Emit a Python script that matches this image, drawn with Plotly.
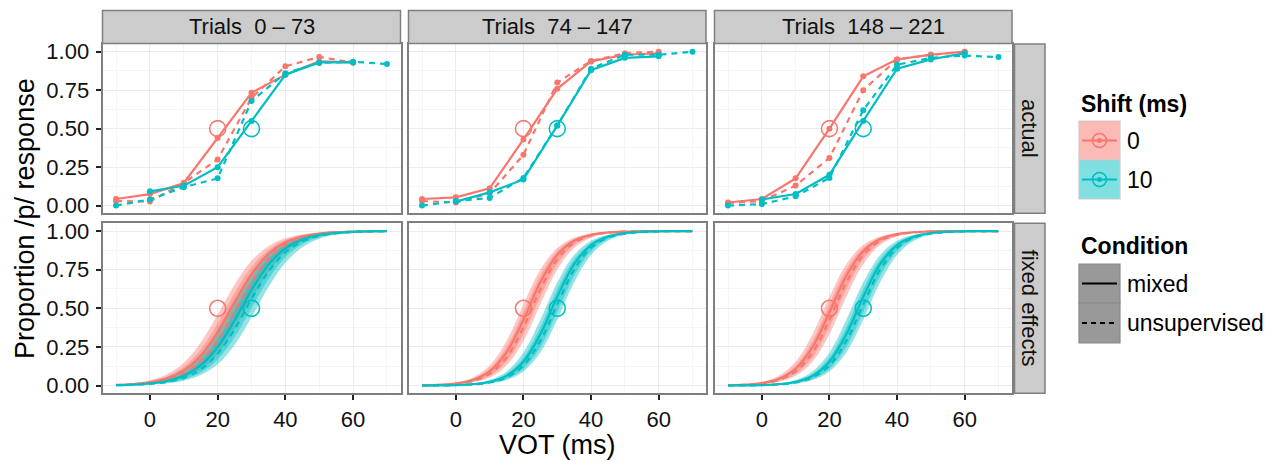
import plotly.graph_objects as go

# The page is shown with the browser's default 8px body margin, so the figure
# is sized to fill the rest of the 1272x461 window and positions are offset.
PAGE_OFF = 8
W, H = 1272 - PAGE_OFF, 461 - PAGE_OFF
FONT = "Liberation Sans, Arial, sans-serif"
RED = "#F8766D"
TEAL = "#00BFC4"
RED_FILL = "rgba(248,118,109,0.42)"
TEAL_FILL = "rgba(0,191,196,0.42)"
RED_KEY = "rgba(248,118,109,0.5)"
TEAL_KEY = "rgba(0,191,196,0.5)"

# ---------------- data ----------------
FACETS = ["Trials  0 \u2013 73", "Trials  74 \u2013 147", "Trials  148 \u2013 221"]
ROW_LABELS = ["actual", "fixed effects"]
SHIFTS = ["0", "10"]
CONDITIONS = ["mixed", "unsupervised"]

# category boundaries (open circles)
BOUNDARY_VOT = [20, 30]
BOUNDARY_P = [0.5, 0.5]

# --- actual proportions (top row) ---
VOT_ACTUAL = [-10, 0, 10, 20, 30, 40, 50, 60, 70]

P1_S0_MIX = [0.043, 0.075, 0.147, 0.44, 0.733, 0.851, 0.937, 0.93, None]
P1_S0_UNS = [0.030, 0.026, 0.147, 0.30, 0.70, 0.905, 0.966, 0.93, None]
P1_S10_MIX = [None, 0.093, 0.129, 0.25, 0.55, 0.85, 0.93, 0.93, None]
P1_S10_UNS = [0.0, 0.04, 0.12, 0.177, 0.68, 0.86, 0.927, 0.935, 0.92]

P2_S0_MIX = [0.043, 0.054, 0.112, 0.43, 0.759, 0.937, 0.98, 0.99, None]
P2_S0_UNS = [0.030, 0.020, 0.08, 0.33, 0.80, 0.94, 0.99, 1.0, None]
P2_S10_MIX = [None, 0.026, 0.086, 0.17, 0.52, 0.88, 0.96, 0.97, None]
P2_S10_UNS = [0.0, 0.03, 0.05, 0.18, 0.52, 0.89, 0.98, 0.98, 1.0]

P3_S0_MIX = [0.02, 0.043, 0.177, 0.50, 0.84, 0.95, 0.98, 1.0, None]
P3_S0_UNS = [0.017, 0.03, 0.13, 0.31, 0.75, 0.95, 0.98, 1.0, None]
P3_S10_MIX = [None, 0.04, 0.075, 0.20, 0.55, 0.89, 0.95, 0.99, None]
P3_S10_UNS = [0.0, 0.01, 0.06, 0.18, 0.62, 0.915, 0.96, 0.975, 0.965]

# --- fixed-effects predictions (bottom row), read at 5 ms steps ---
VOT_FIT = [-10, -5, 0, 5, 10, 15, 20, 25, 30, 35, 40, 45, 50, 55, 60, 65, 70]

# panel 1
P1_S0_MIX_FIT = [0.0045, 0.0100, 0.0217, 0.0466, 0.098, 0.193, 0.347, 0.540, 0.721, 0.852, 0.927, 0.965, 0.984, 0.993, 0.997, 0.9985, 0.9993]
P1_S0_MIX_LO = [0.0028, 0.0062, 0.0135, 0.0296, 0.063, 0.130, 0.248, 0.421, 0.617, 0.781, 0.887, 0.946, 0.975, 0.988, 0.995, 0.9976, 0.9989]
P1_S0_MIX_HI = [0.0072, 0.0158, 0.0345, 0.073, 0.148, 0.279, 0.460, 0.653, 0.807, 0.902, 0.953, 0.978, 0.990, 0.9955, 0.998, 0.9991, 0.9996]
P1_S0_UNS_FIT = [0.0036, 0.0078, 0.0172, 0.0373, 0.0787, 0.158, 0.295, 0.480, 0.670, 0.819, 0.909, 0.957, 0.980, 0.991, 0.996, 0.998, 0.999]
P1_S0_UNS_LO = [0.0022, 0.0049, 0.0108, 0.0234, 0.050, 0.105, 0.206, 0.364, 0.560, 0.737, 0.862, 0.932, 0.968, 0.985, 0.993, 0.997, 0.9986]
P1_S0_UNS_HI = [0.0057, 0.0125, 0.0274, 0.0584, 0.121, 0.233, 0.401, 0.599, 0.767, 0.879, 0.942, 0.973, 0.9875, 0.994, 0.9974, 0.9988, 0.9995]
P1_S10_MIX_FIT = [0.0028, 0.0062, 0.0135, 0.0296, 0.063, 0.130, 0.248, 0.421, 0.617, 0.781, 0.887, 0.946, 0.975, 0.988, 0.995, 0.9976, 0.9989]
P1_S10_MIX_LO = [0.0017, 0.0038, 0.0085, 0.0185, 0.040, 0.0847, 0.169, 0.312, 0.500, 0.688, 0.831, 0.915, 0.960, 0.981, 0.9915, 0.996, 0.9983]
P1_S10_MIX_HI = [0.0045, 0.0100, 0.0217, 0.0466, 0.098, 0.193, 0.347, 0.540, 0.721, 0.852, 0.927, 0.965, 0.984, 0.993, 0.997, 0.9985, 0.9993]
P1_S10_UNS_FIT = [0.0022, 0.0049, 0.0108, 0.0234, 0.050, 0.105, 0.206, 0.364, 0.560, 0.737, 0.862, 0.932, 0.968, 0.985, 0.993, 0.997, 0.9986]
P1_S10_UNS_LO = [0.0014, 0.0030, 0.0067, 0.0146, 0.032, 0.068, 0.138, 0.263, 0.440, 0.636, 0.794, 0.895, 0.950, 0.977, 0.989, 0.995, 0.9978]
P1_S10_UNS_HI = [0.0036, 0.0078, 0.0172, 0.0373, 0.0787, 0.158, 0.295, 0.480, 0.670, 0.819, 0.909, 0.957, 0.980, 0.991, 0.996, 0.998, 0.999]

# panel 2
P2_S0_MIX_FIT = [0.0018, 0.0050, 0.0134, 0.0356, 0.0911, 0.2142, 0.4256, 0.6682, 0.8455, 0.9370, 0.9759, 0.9910, 0.9967, 0.9988, 0.9996, 0.9998, 0.9999]
P2_S0_MIX_LO = [0.0012, 0.0033, 0.0090, 0.0241, 0.0630, 0.1545, 0.3318, 0.5744, 0.7858, 0.9089, 0.9644, 0.9866, 0.9950, 0.9982, 0.9993, 0.9998, 0.9999]
P2_S0_MIX_HI = [0.0027, 0.0074, 0.0198, 0.0522, 0.1301, 0.2891, 0.5250, 0.7503, 0.8909, 0.9569, 0.9837, 0.9939, 0.9978, 0.9992, 0.9997, 0.9999, 1.0]
P2_S0_UNS_FIT = [0.0015, 0.0041, 0.0110, 0.0293, 0.0759, 0.1824, 0.3775, 0.6225, 0.8176, 0.9241, 0.9707, 0.9890, 0.9959, 0.9985, 0.9994, 0.9998, 0.9999]
P2_S0_UNS_LO = [0.0010, 0.0027, 0.0074, 0.0198, 0.0522, 0.1301, 0.2891, 0.5250, 0.7503, 0.8909, 0.9569, 0.9837, 0.9939, 0.9978, 0.9992, 0.9997, 0.9999]
P2_S0_UNS_HI = [0.0022, 0.0061, 0.0163, 0.0431, 0.1091, 0.2497, 0.4750, 0.7109, 0.8699, 0.9478, 0.9802, 0.9926, 0.9973, 0.9990, 0.9996, 0.9999, 1.0]
P2_S10_MIX_FIT = [0.0005, 0.0012, 0.0033, 0.0090, 0.0241, 0.0630, 0.1545, 0.3318, 0.5744, 0.7858, 0.9089, 0.9644, 0.9866, 0.9950, 0.9982, 0.9993, 0.9998]
P2_S10_MIX_LO = [0.0003, 0.0008, 0.0022, 0.0061, 0.0163, 0.0431, 0.1091, 0.2497, 0.4750, 0.7109, 0.8699, 0.9478, 0.9802, 0.9926, 0.9973, 0.9990, 0.9996]
P2_S10_MIX_HI = [0.0007, 0.0018, 0.0050, 0.0134, 0.0356, 0.0911, 0.2142, 0.4256, 0.6682, 0.8455, 0.9370, 0.9759, 0.9910, 0.9967, 0.9988, 0.9996, 0.9998]
P2_S10_UNS_FIT = [0.0004, 0.0010, 0.0027, 0.0074, 0.0198, 0.0522, 0.1301, 0.2891, 0.5250, 0.7503, 0.8909, 0.9569, 0.9837, 0.9939, 0.9978, 0.9992, 0.9997]
P2_S10_UNS_LO = [0.0002, 0.0007, 0.0018, 0.0050, 0.0134, 0.0356, 0.0911, 0.2142, 0.4256, 0.6682, 0.8455, 0.9370, 0.9759, 0.9910, 0.9967, 0.9988, 0.9996]
P2_S10_UNS_HI = [0.0006, 0.0015, 0.0041, 0.0110, 0.0293, 0.0759, 0.1824, 0.3775, 0.6225, 0.8176, 0.9241, 0.9707, 0.9890, 0.9959, 0.9985, 0.9994, 0.9998]

# panel 3
P3_S0_MIX_FIT = [0.0022, 0.0061, 0.0163, 0.0431, 0.1091, 0.2497, 0.4750, 0.7109, 0.8699, 0.9478, 0.9802, 0.9926, 0.9973, 0.9990, 0.9996, 0.9999, 1.0]
P3_S0_MIX_LO = [0.0015, 0.0041, 0.0110, 0.0293, 0.0759, 0.1824, 0.3775, 0.6225, 0.8176, 0.9241, 0.9707, 0.9890, 0.9959, 0.9985, 0.9994, 0.9998, 0.9999]
P3_S0_MIX_HI = [0.0033, 0.0090, 0.0241, 0.0630, 0.1545, 0.3318, 0.5744, 0.7858, 0.9089, 0.9644, 0.9866, 0.9950, 0.9982, 0.9993, 0.9998, 0.9999, 1.0]
P3_S0_UNS_FIT = [0.0018, 0.0050, 0.0134, 0.0356, 0.0911, 0.2142, 0.4256, 0.6682, 0.8455, 0.9370, 0.9759, 0.9910, 0.9967, 0.9988, 0.9996, 0.9998, 0.9999]
P3_S0_UNS_LO = [0.0012, 0.0033, 0.0090, 0.0241, 0.0630, 0.1545, 0.3318, 0.5744, 0.7858, 0.9089, 0.9644, 0.9866, 0.9950, 0.9982, 0.9993, 0.9998, 0.9999]
P3_S0_UNS_HI = [0.0027, 0.0074, 0.0198, 0.0522, 0.1301, 0.2891, 0.5250, 0.7503, 0.8909, 0.9569, 0.9837, 0.9939, 0.9978, 0.9992, 0.9997, 0.9999, 1.0]
P3_S10_MIX_FIT = [0.0005, 0.0012, 0.0033, 0.0090, 0.0241, 0.0630, 0.1545, 0.3318, 0.5744, 0.7858, 0.9089, 0.9644, 0.9866, 0.9950, 0.9982, 0.9993, 0.9998]
P3_S10_MIX_LO = [0.0003, 0.0008, 0.0022, 0.0061, 0.0163, 0.0431, 0.1091, 0.2497, 0.4750, 0.7109, 0.8699, 0.9478, 0.9802, 0.9926, 0.9973, 0.9990, 0.9996]
P3_S10_MIX_HI = [0.0007, 0.0018, 0.0050, 0.0134, 0.0356, 0.0911, 0.2142, 0.4256, 0.6682, 0.8455, 0.9370, 0.9759, 0.9910, 0.9967, 0.9988, 0.9996, 0.9998]
P3_S10_UNS_FIT = [0.0004, 0.0010, 0.0027, 0.0074, 0.0198, 0.0522, 0.1301, 0.2891, 0.5250, 0.7503, 0.8909, 0.9569, 0.9837, 0.9939, 0.9978, 0.9992, 0.9997]
P3_S10_UNS_LO = [0.0002, 0.0007, 0.0018, 0.0050, 0.0134, 0.0356, 0.0911, 0.2142, 0.4256, 0.6682, 0.8455, 0.9370, 0.9759, 0.9910, 0.9967, 0.9988, 0.9996]
P3_S10_UNS_HI = [0.0006, 0.0015, 0.0041, 0.0110, 0.0293, 0.0759, 0.1824, 0.3775, 0.6225, 0.8176, 0.9241, 0.9707, 0.9890, 0.9959, 0.9985, 0.9994, 0.9998]

X_TICKS = [0, 20, 40, 60]
Y_TICKS = [0, 0.25, 0.5, 0.75, 1.0]

ACTUAL = [
    [[P1_S0_MIX, P1_S0_UNS], [P1_S10_MIX, P1_S10_UNS]],
    [[P2_S0_MIX, P2_S0_UNS], [P2_S10_MIX, P2_S10_UNS]],
    [[P3_S0_MIX, P3_S0_UNS], [P3_S10_MIX, P3_S10_UNS]],
]
FITS = [
    [[(P1_S0_MIX_FIT, P1_S0_MIX_LO, P1_S0_MIX_HI), (P1_S0_UNS_FIT, P1_S0_UNS_LO, P1_S0_UNS_HI)],
     [(P1_S10_MIX_FIT, P1_S10_MIX_LO, P1_S10_MIX_HI), (P1_S10_UNS_FIT, P1_S10_UNS_LO, P1_S10_UNS_HI)]],
    [[(P2_S0_MIX_FIT, P2_S0_MIX_LO, P2_S0_MIX_HI), (P2_S0_UNS_FIT, P2_S0_UNS_LO, P2_S0_UNS_HI)],
     [(P2_S10_MIX_FIT, P2_S10_MIX_LO, P2_S10_MIX_HI), (P2_S10_UNS_FIT, P2_S10_UNS_LO, P2_S10_UNS_HI)]],
    [[(P3_S0_MIX_FIT, P3_S0_MIX_LO, P3_S0_MIX_HI), (P3_S0_UNS_FIT, P3_S0_UNS_LO, P3_S0_UNS_HI)],
     [(P3_S10_MIX_FIT, P3_S10_MIX_LO, P3_S10_MIX_HI), (P3_S10_UNS_FIT, P3_S10_UNS_LO, P3_S10_UNS_HI)]],
]

# ---------------- layout geometry (window pixels) ----------------
COL_X = [(102.5, 400.5), (408.5, 706.0), (714.5, 1012.0)]
ROW_Y = [(44.0, 213.3), (223.3, 393.3)]
STRIP_TOP = (10.5, 43.5)
STRIP_RIGHT = (1014.5, 1045.0)

COLORS = [RED, TEAL]
FILLS = [RED_FILL, TEAL_FILL]
KEY_FILLS = [RED_KEY, TEAL_KEY]
DASHES = ["solid", "6px,5px"]


def px(x):
    return (x - PAGE_OFF) / W


def py(y):
    return 1 - (y - PAGE_OFF) / H


fig = go.Figure()

for c in range(3):
    # top row: actual
    k = c + 1
    xa, ya = ("x" if k == 1 else f"x{k}"), ("y" if k == 1 else f"y{k}")
    for s in range(2):
        for d in range(2):
            fig.add_trace(go.Scatter(
                x=VOT_ACTUAL, y=ACTUAL[c][s][d], xaxis=xa, yaxis=ya,
                mode="lines+markers", connectgaps=False,
                line=dict(color=COLORS[s], width=2.2, dash=DASHES[d]),
                marker=dict(color=COLORS[s], size=6),
                showlegend=False, hoverinfo="skip"))
    for s in range(2):
        fig.add_trace(go.Scatter(
            x=[BOUNDARY_VOT[s]], y=[BOUNDARY_P[s]], xaxis=xa, yaxis=ya,
            mode="markers",
            marker=dict(symbol="circle-open", size=16, color=COLORS[s], line=dict(width=1.6)),
            showlegend=False, hoverinfo="skip"))

    # bottom row: fixed effects
    k = c + 4
    xa, ya = f"x{k}", f"y{k}"
    for s in range(2):
        for d in range(2):
            fit, lo, hi = FITS[c][s][d]
            fig.add_trace(go.Scatter(
                x=VOT_FIT, y=lo, xaxis=xa, yaxis=ya, mode="lines",
                line=dict(width=0, shape="spline", color=COLORS[s]),
                showlegend=False, hoverinfo="skip"))
            fig.add_trace(go.Scatter(
                x=VOT_FIT, y=hi, xaxis=xa, yaxis=ya, mode="lines",
                line=dict(width=0, shape="spline", color=COLORS[s]),
                fill="tonexty", fillcolor=FILLS[s],
                showlegend=False, hoverinfo="skip"))
    for s in range(2):
        for d in range(2):
            fit, lo, hi = FITS[c][s][d]
            fig.add_trace(go.Scatter(
                x=VOT_FIT, y=fit, xaxis=xa, yaxis=ya, mode="lines",
                line=dict(width=2.2, shape="spline", color=COLORS[s], dash=DASHES[d]),
                showlegend=False, hoverinfo="skip"))
    for s in range(2):
        fig.add_trace(go.Scatter(
            x=[BOUNDARY_VOT[s]], y=[BOUNDARY_P[s]], xaxis=xa, yaxis=ya,
            mode="markers",
            marker=dict(symbol="circle-open", size=16, color=COLORS[s], line=dict(width=1.6)),
            showlegend=False, hoverinfo="skip"))

layout = dict(
    width=W, height=H,
    margin=dict(l=0, r=0, t=0, b=0, autoexpand=False),
    paper_bgcolor="white", plot_bgcolor="white",
    font=dict(family=FONT, color="black"),
    showlegend=False,
)

TICKFONT = dict(family=FONT, size=22, color="#111111")

for r in range(2):
    for c in range(3):
        k = r * 3 + c + 1
        xname = "xaxis" if k == 1 else f"xaxis{k}"
        yname = "yaxis" if k == 1 else f"yaxis{k}"
        anchor_x = "x" if k == 1 else f"x{k}"
        anchor_y = "y" if k == 1 else f"y{k}"
        layout[xname] = dict(
            domain=[px(COL_X[c][0]), px(COL_X[c][1])], anchor=anchor_y,
            range=[-14, 74], tickvals=X_TICKS, ticktext=[str(v) for v in X_TICKS],
            showticklabels=(r == 1), ticks="outside" if r == 1 else "",
            ticklen=5, tickwidth=1.6, tickcolor="#222222", tickfont=TICKFONT,
            showgrid=True, gridcolor="#EBEBEB", gridwidth=1.2,
            minor=dict(dtick=10, tick0=0, showgrid=True, gridcolor="#F5F5F5", gridwidth=1, ticks=""),
            showline=True, mirror=True, linecolor="#7F7F7F", linewidth=1.8,
            zeroline=False, fixedrange=True,
        )
        layout[yname] = dict(
            domain=[py(ROW_Y[r][1]), py(ROW_Y[r][0])], anchor=anchor_x,
            range=[-0.05, 1.05], tickvals=Y_TICKS, tickformat=".2f",
            showticklabels=(c == 0), ticks="outside" if c == 0 else "",
            ticklen=5, tickwidth=1.6, tickcolor="#222222", tickfont=TICKFONT,
            ticklabelstandoff=2,
            showgrid=True, gridcolor="#EBEBEB", gridwidth=1.2,
            minor=dict(dtick=0.125, tick0=0, showgrid=True, gridcolor="#F5F5F5", gridwidth=1, ticks=""),
            showline=True, mirror=True, linecolor="#7F7F7F", linewidth=1.8,
            zeroline=False, fixedrange=True,
        )

fig.update_layout(**layout)

shapes = []
annotations = []

# strips on top
for c in range(3):
    shapes.append(dict(type="rect", xref="paper", yref="paper",
                       x0=px(COL_X[c][0]), x1=px(COL_X[c][1]),
                       y0=py(STRIP_TOP[1]), y1=py(STRIP_TOP[0]),
                       fillcolor="#CCCCCC", line=dict(color="#7F7F7F", width=1.5)))
    annotations.append(dict(xref="paper", yref="paper",
                            x=px((COL_X[c][0] + COL_X[c][1]) / 2), y=py(sum(STRIP_TOP) / 2),
                            text=FACETS[c], showarrow=False, xanchor="center", yanchor="middle",
                            font=dict(family=FONT, size=22, color="#111111")))
# strips on right
for r in range(2):
    shapes.append(dict(type="rect", xref="paper", yref="paper",
                       x0=px(STRIP_RIGHT[0]), x1=px(STRIP_RIGHT[1]),
                       y0=py(ROW_Y[r][1]), y1=py(ROW_Y[r][0]),
                       fillcolor="#CCCCCC", line=dict(color="#7F7F7F", width=1.5)))
    annotations.append(dict(xref="paper", yref="paper",
                            x=px(sum(STRIP_RIGHT) / 2), y=py(sum(ROW_Y[r]) / 2),
                            text=ROW_LABELS[r], showarrow=False, textangle=90,
                            xanchor="center", yanchor="middle",
                            font=dict(family=FONT, size=22, color="#111111")))

# axis titles
annotations.append(dict(xref="paper", yref="paper", x=px((COL_X[0][0] + COL_X[2][1]) / 2), y=py(445),
                        text="VOT (ms)", showarrow=False, xanchor="center", yanchor="middle",
                        font=dict(family=FONT, size=27, color="black")))
annotations.append(dict(xref="paper", yref="paper", x=px(25), y=py(219),
                        text="Proportion /p/ response", showarrow=False, textangle=-90,
                        xanchor="center", yanchor="middle",
                        font=dict(family=FONT, size=27, color="black")))

# legend (drawn by hand)
LEG_X0, LEG_X1 = 1079, 1120
LEG_CX = (LEG_X0 + LEG_X1) / 2
annotations.append(dict(xref="paper", yref="paper", x=px(1079), y=py(104),
                        text="<b>Shift (ms)</b>", showarrow=False, xanchor="left", yanchor="middle",
                        font=dict(family=FONT, size=23, color="black")))
shift_key_y = [(121, 160), (160, 199)]
for s in range(2):
    y0, y1 = shift_key_y[s]
    cy = (y0 + y1) / 2
    shapes.append(dict(type="rect", xref="paper", yref="paper",
                       x0=px(LEG_X0), x1=px(LEG_X1), y0=py(y1), y1=py(y0),
                       fillcolor=KEY_FILLS[s], line=dict(color="#CCCCCC", width=1.2)))
    shapes.append(dict(type="line", xref="paper", yref="paper",
                       x0=px(LEG_X0 + 3), x1=px(LEG_X1 - 3), y0=py(cy), y1=py(cy),
                       line=dict(color=COLORS[s], width=2)))
    shapes.append(dict(type="circle", xref="paper", yref="paper",
                       xsizemode="pixel", ysizemode="pixel", xanchor=px(LEG_CX), yanchor=py(cy),
                       x0=-7, x1=7, y0=-7, y1=7, line=dict(color=COLORS[s], width=1.6)))
    shapes.append(dict(type="circle", xref="paper", yref="paper",
                       xsizemode="pixel", ysizemode="pixel", xanchor=px(LEG_CX), yanchor=py(cy),
                       x0=-2.5, x1=2.5, y0=-2.5, y1=2.5, fillcolor=COLORS[s], line=dict(width=0)))
    annotations.append(dict(xref="paper", yref="paper", x=px(1125), y=py(cy),
                            text=SHIFTS[s], showarrow=False, xanchor="left", yanchor="middle",
                            font=dict(family=FONT, size=23, color="black")))

annotations.append(dict(xref="paper", yref="paper", x=px(1079), y=py(246),
                        text="<b>Condition</b>", showarrow=False, xanchor="left", yanchor="middle",
                        font=dict(family=FONT, size=23, color="black")))
cond_key_y = [(264, 303), (303, 343)]
for d in range(2):
    y0, y1 = cond_key_y[d]
    cy = (y0 + y1) / 2
    shapes.append(dict(type="rect", xref="paper", yref="paper",
                       x0=px(LEG_X0), x1=px(LEG_X1), y0=py(y1), y1=py(y0),
                       fillcolor="#999999", line=dict(color="#8A8A8A", width=1.2)))
    shapes.append(dict(type="line", xref="paper", yref="paper",
                       x0=px(LEG_X0 + 3), x1=px(LEG_X1 - 3), y0=py(cy), y1=py(cy),
                       line=dict(color="black", width=2.2, dash="solid" if d == 0 else "5px,4px")))
    annotations.append(dict(xref="paper", yref="paper", x=px(1125), y=py(cy),
                            text=CONDITIONS[d], showarrow=False, xanchor="left", yanchor="middle",
                            font=dict(family=FONT, size=23, color="black")))

fig.update_layout(shapes=shapes, annotations=annotations)
fig.write_html("out.html")
